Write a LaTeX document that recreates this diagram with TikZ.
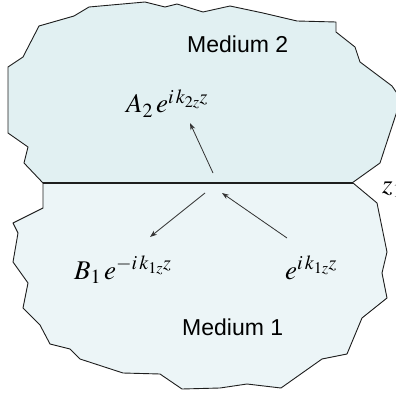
\documentclass[tikz,border=0pt]{standalone}
\usepackage{mathptmx}
\usepackage{fontspec}
\newfontfamily\arialf{Liberation Sans}
\usetikzlibrary{arrows.meta}
\definecolor{upperfill}{RGB}{225,240,242}
\definecolor{lowerfill}{RGB}{236,245,247}
\definecolor{edgecol}{RGB}{30,30,30}
\definecolor{arrowcol}{RGB}{50,50,50}
\begin{document}
\begin{tikzpicture}[x=1pt,y=-1pt,
  medium/.style={draw=edgecol, line width=0.9pt, line join=round},
  wave/.style={draw=arrowcol, line width=0.8pt, -{Stealth[length=7pt,width=5pt]}},
  lab/.style={font=\arialf\fontsize{23}{26}\selectfont, anchor=base west, inner sep=0pt},
  eq/.style={font=\fontsize{27}{30}\selectfont, anchor=base west, inner sep=0pt}]
\clip (0,0) rectangle (396,393);
% Medium 2
\path[medium, fill=upperfill] (43,183) -- (24,163) -- (28,147) -- (8,133) -- (8,67) -- (23,57) -- (39,26) -- (74,16) -- (89,7) -- (145,2) -- (165,7) -- (177,4) -- (203,12) -- (230,6) -- (263,13) -- (297,21) -- (336,22) -- (336,32) -- (355,47) -- (360,62) -- (392,86) -- (401,99) -- (380,163) -- (352,183) -- cycle;
% Medium 1
\path[medium, fill=lowerfill] (43,183) -- (353,183) -- (377,203) -- (387,252) -- (382,273) -- (387,298) -- (362,318) -- (347,354) -- (322,359) -- (281,388) -- (247,384) -- (220,388) -- (182,389) -- (160,374) -- (123,373) -- (80,359) -- (70,349) -- (50,344) -- (40,325) -- (23,308) -- (28,283) -- (13,262) -- (18,233) -- (13,223) -- (43,208) -- cycle;
% interface
\coordinate (il) at (43,183);
\coordinate (ir) at (353,183);
\draw[draw=edgecol, line width=1.3pt] (il) -- (ir);
% labels
\node[lab] (m2) at (187,53) {Medium 2};
\node[lab] (m1) at (182,335) {Medium 1};
\node[eq] (t) at (126,113) {$A_2\,e^{i\,k_{2z}z}$};
\node[eq] (r) at (74,279) {$B_1\,e^{-i\,k_{1z}z}$};
\node[eq] (inc) at (285,279) {$e^{i\,k_{1z}z}$};
\node[eq] (z) at (382,193) {$z_1$};
% waves
\coordinate (ts) at (213,173); \coordinate (te) at (190,123);
\coordinate (rs) at (205,193); \coordinate (re) at (150,237);
\coordinate (is) at (287,238); \coordinate (ie) at (222,193);
\draw[wave] (ts) -- (te);
\draw[wave] (rs) -- (re);
\draw[wave] (is) -- (ie);
\end{tikzpicture}
\end{document}
